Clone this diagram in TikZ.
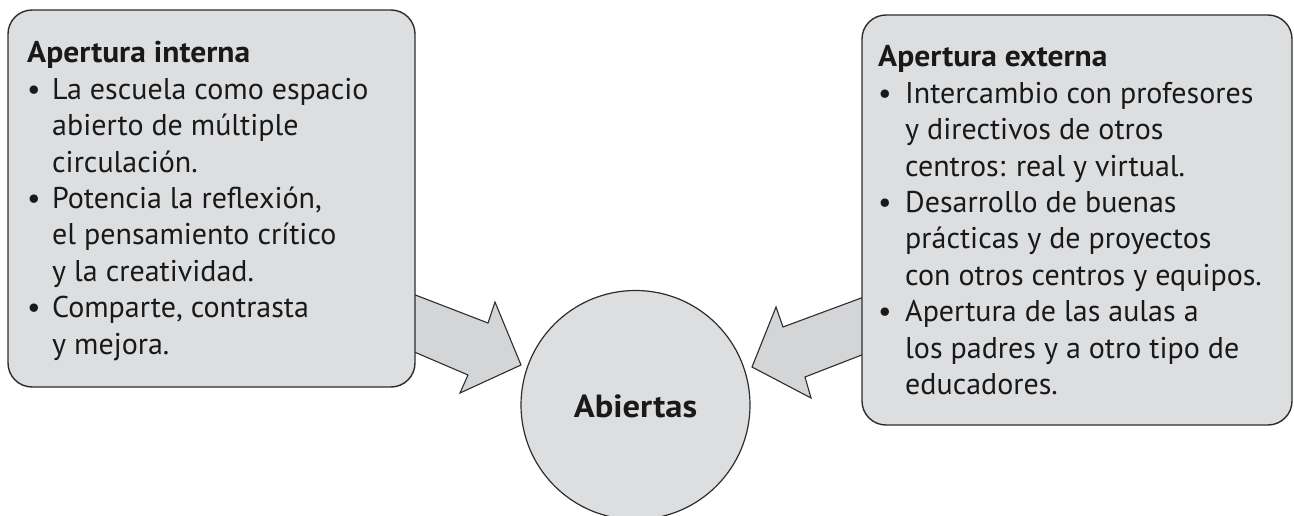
\documentclass[tikz,border=0pt]{standalone}
\usepackage{graphicx}
\usepackage{fontspec}
\setmainfont{PT Sans}
\definecolor{boxfill}{RGB}{221,222,224}
\definecolor{arrowfill}{RGB}{212,213,215}
\definecolor{edge}{RGB}{45,45,45}
\newcommand{\ttl}[1]{\scalebox{1.05}[1]{\textbf{#1}}}
\begin{document}
\begin{tikzpicture}[x=1pt,y=-1pt,
  panel/.style={draw=edge,line width=1.4pt,fill=boxfill,rounded corners=24pt},
  blockarrow/.style={draw=edge,line width=1.1pt,fill=arrowfill,line join=miter},
  txt/.style={anchor=base west,inner sep=0pt,text=black!90,font=\fontsize{30}{36.4}\selectfont}]
\useasboundingbox (0,0) rectangle (1294,516);
% arrows
\draw[blockarrow] (405,291) -- (488,323) -- (495,302) -- (521,365) -- (460,393) -- (468,375) -- (405,348);
\draw[blockarrow] (872,294) -- (783,327) -- (776,307) -- (752,367) -- (811,398) -- (805,377) -- (872,351);
% boxes
\draw[panel] (8,10) rectangle (415,387);
\draw[panel] (862,15) rectangle (1292,425);
\node[draw=edge,line width=1.2pt,fill=boxfill,circle,minimum size=229pt,inner sep=0pt] (abiertas) at (635.5,405) {};
\node[anchor=base,inner sep=0pt,text=black!90,font=\fontsize{32}{34}\selectfont\bfseries] (lbl) at (635.5,417) {\scalebox{1.08}[1]{Abiertas}};
\node[txt] (left) at (27,63) {\parbox[t]{385pt}{%
\ttl{Apertura interna}\\
\makebox[25pt][l]{\textbullet}La escuela como espacio\\
\hspace*{25pt}abierto de múltiple\\
\hspace*{25pt}circulación.\\
\makebox[25pt][l]{\textbullet}Potencia la reflexión,\\
\hspace*{25pt}el pensamiento crítico\\
\hspace*{25pt}y la creatividad.\\
\makebox[25pt][l]{\textbullet}Comparte, contrasta\\
\hspace*{25pt}y mejora.}};
\node[txt] (right) at (878,67) {\parbox[t]{410pt}{%
\ttl{Apertura externa}\\
\makebox[27pt][l]{\textbullet}Intercambio con profesores\\
\hspace*{27pt}y directivos de otros\\
\hspace*{27pt}centros: real y virtual.\\
\makebox[27pt][l]{\textbullet}Desarrollo de buenas\\
\hspace*{27pt}prácticas y de proyectos\\
\hspace*{27pt}con otros centros y equipos.\\
\makebox[27pt][l]{\textbullet}Apertura de las aulas a\\
\hspace*{27pt}los padres y a otro tipo de\\
\hspace*{27pt}educadores.}};
\end{tikzpicture}
\end{document}
